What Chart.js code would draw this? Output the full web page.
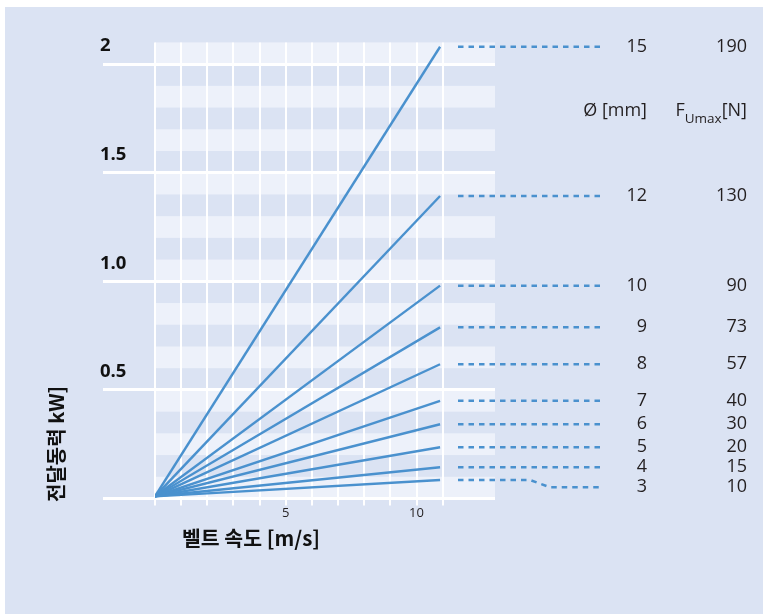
<!DOCTYPE html>
<html>
<head>
<meta charset="utf-8">
<script src="https://cdn.jsdelivr.net/npm/chart.js@4.4.1/dist/chart.umd.min.js"></script>
<style>
  html, body { margin: 0; padding: 0; background: #fff; }
  #wrap { width: 763px; height: 614px; }
</style>
</head>
<body>
<div id="wrap"><canvas id="chart" width="763" height="614"></canvas></div>
<script>
// belt speed where the lines stop, and the power read at that speed
const speedEnd = 10.9;
const powerAtStart = 0.01;
const diameters = [3, 4, 5, 6, 7, 8, 9, 10, 12, 15];
const forces = [10, 15, 20, 30, 40, 57, 73, 90, 130, 190];
const powerAtEnd = [0.085, 0.144, 0.236, 0.342, 0.45, 0.618, 0.788, 0.98, 1.393, 2.08];

const yTickValues = [0.5, 1, 1.5, 2];
const yTickLabels = ['0.5', '1.0', '1.5', '2'];
const xTickValues = [5, 10];

const LINE = '#4a91ce';
const BG = '#dbe3f3';
const STRIPE = '#edf1fa';
const INK = '#231f20';

const isMajor = v => yTickValues.concat([0]).some(t => Math.abs(t - v) < 1e-6);

// page colour + alternating bands behind the grid
const backdrop = {
  id: 'backdrop',
  beforeDraw(chart) {
    const { ctx, chartArea: a, scales: { y } } = chart;
    ctx.save();
    ctx.fillStyle = BG;
    ctx.fillRect(5, 7, chart.width - 5, chart.height - 7);
    ctx.fillStyle = STRIPE;
    for (let k = 0; k < 21; k += 2) {
      const top = y.getPixelForValue((k + 1) / 10);
      const bottom = y.getPixelForValue(k / 10);
      ctx.fillRect(a.left, top, a.right - a.left, bottom - top);
    }
    ctx.restore();
  }
};

// dotted leaders, the two key columns and the axis titles
const keyLabels = {
  id: 'keyLabels',
  afterDraw(chart) {
    const { ctx, chartArea: a, scales: { y } } = chart;
    const x0 = a.right - 37, xBend = a.right + 35, x1 = a.right + 108;
    const colD = a.right + 152, colF = a.right + 252;

    ctx.save();
    ctx.lineWidth = 2.5;
    ctx.strokeStyle = LINE;
    ctx.setLineDash([5.5, 5]);
    ctx.fillStyle = INK;
    ctx.font = '18px "Open Sans"';
    ctx.textAlign = 'right';
    ctx.textBaseline = 'middle';

    const order = powerAtEnd.map((_, i) => i).sort((p, q) => powerAtEnd[q] - powerAtEnd[p]);
    let prev = -Infinity;
    order.forEach(i => {
      const yl = y.getPixelForValue(powerAtEnd[i]);
      const ylab = Math.max(yl, prev + 20);
      prev = ylab;
      ctx.beginPath();
      ctx.moveTo(x0, yl);
      if (ylab > yl + 0.5) {
        ctx.lineTo(xBend, yl);
        ctx.lineTo(xBend + 20, ylab);
      }
      ctx.lineTo(x1, ylab);
      ctx.stroke();
      ctx.fillText(String(diameters[i]), colD, ylab);
      ctx.fillText(String(forces[i]), colF, ylab);
    });

    // column headers
    const yh = a.top + 68;
    ctx.fillText('Ø [mm]', colD, yh);
    const wN = ctx.measureText('[N]').width;
    ctx.fillText('[N]', colF, yh);
    ctx.font = '13.5px "Open Sans"';
    const wU = ctx.measureText('Umax').width;
    ctx.fillText('Umax', colF - wN, yh + 9);
    ctx.font = '18px "Open Sans"';
    ctx.fillText('F', colF - wN - wU, yh);

    // axis titles
    ctx.fillStyle = '#111';
    ctx.textAlign = 'left';
    ctx.font = 'bold 20.5px "Noto Sans CJK KR"';
    ctx.fillText('벨트 속도 [m/s]', a.left + 27, a.bottom + 40);
    ctx.font = 'bold 20px "Noto Sans CJK KR"';
    ctx.translate(a.left - 99, a.bottom + 3.5);
    ctx.rotate(-Math.PI / 2);
    ctx.fillText('전달동력 kW]', 0, 0);
    ctx.restore();
  }
};

const datasets = diameters.map((d, i) => ({
  label: d + ' mm',
  data: [{ x: 0, y: powerAtStart }, { x: speedEnd, y: powerAtEnd[i] }],
  borderColor: LINE,
  borderWidth: 2.4,
  pointRadius: 0,
  fill: false,
  tension: 0
}));

Chart.defaults.font.family = '"Open Sans"';

new Chart(document.getElementById('chart'), {
  type: 'line',
  data: { datasets },
  plugins: [backdrop, keyLabels],
  options: {
    responsive: false,
    animation: false,
    layout: { padding: { left: 100, top: 42.4, right: 268, bottom: 85.5 } },
    plugins: { legend: { display: false }, tooltip: { enabled: false } },
    scales: {
      x: {
        type: 'linear',
        min: 0,
        max: 13,
        border: { display: false },
        grid: {
          color: c => (c.tick && c.tick.value <= 11 ? '#ffffff' : 'rgba(0,0,0,0)'),
          lineWidth: 2,
          tickLength: 7
        },
        ticks: {
          stepSize: 1,
          autoSkip: false,
          maxRotation: 0,
          padding: 0,
          color: INK,
          font: { size: 13 },
          callback: v => (xTickValues.includes(v) ? String(v) : '')
        },
        afterFit: s => { s.height = 30; }
      },
      y: {
        type: 'linear',
        min: 0,
        max: 2.1,
        border: { display: false },
        grid: {
          color: c => (c.tick && isMajor(c.tick.value) ? '#ffffff' : 'rgba(0,0,0,0)'),
          lineWidth: 3,
          tickLength: 52
        },
        ticks: {
          stepSize: 0.1,
          autoSkip: false,
          crossAlign: 'far',
          labelOffset: -18,
          padding: 0,
          color: '#111',
          font: { size: 18.5, weight: 'bold' },
          callback: v => {
            const i = yTickValues.findIndex(t => Math.abs(t - v) < 1e-6);
            return i < 0 ? '' : yTickLabels[i];
          }
        },
        afterFit: s => { s.width = 55; }
      }
    }
  }
});
</script>
</body>
</html>
